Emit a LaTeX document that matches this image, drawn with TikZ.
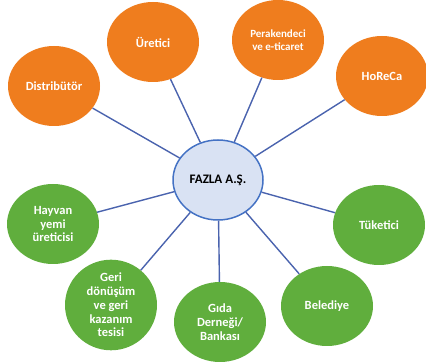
\documentclass[tikz,border=0pt]{standalone}
\usepackage{fontspec}
\setmainfont{Carlito}
\usetikzlibrary{shapes.geometric}

\definecolor{partnerorange}{HTML}{EF7D1E}
\definecolor{partnergreen}{HTML}{60AE3D}
\definecolor{hubfill}{HTML}{D9E2F3}
\definecolor{hubline}{HTML}{4472C4}
\definecolor{linkblue}{HTML}{4A63AE}

\begin{document}
\begin{tikzpicture}[x=1pt, y=-1pt,
  every partner/.style={ellipse, minimum width=92pt, minimum height=80pt,
    inner sep=0pt, align=center, text=white,
    font=\fontsize{12.5}{13.8}\selectfont\bfseries},
  partner orange/.style={every partner, fill=partnerorange},
  partner green/.style={every partner, fill=partnergreen},
  partner perakende/.style={font=\fontsize{11}{12.4}\selectfont\bfseries},
  hub/.style={ellipse, minimum width=90pt, minimum height=80pt, inner sep=0pt,
    fill=hubfill, draw=hubline, line width=1.5pt,
    font=\fontsize{13}{15}\selectfont\bfseries},
  link/.style={draw=linkblue, line width=1.4pt}]

\useasboundingbox (0,0) rectangle (426,363);

% Create the hub node
\node [hub] (hub) at (218,180) {FAZLA A.Ş.};

% Create the orange nodes
\foreach \m/\l/\x/\y in {distributor/Distribütör/54/86,
    uretici/Üretici/153/42,
    perakende/{Perakendeci\\ve e-ticaret}/278/40,
    horeca/HoReCa/382/76}
  \node [partner orange, partner \m/.try] (\m) at (\x,\y) {\l};

% Create the green nodes
\foreach \m/\l/\x/\y in {hayvan/{Hayvan\\yemi\\üreticisi}/53/224,
    geridonusum/{Geri\\dönüşüm\\ve geri\\kazanım\\tesisi}/111/305,
    gida/{Gıda\\Derneği/\\Bankası}/220/322,
    belediye/Belediye/327/306,
    tuketici/Tüketici/379/225}
  \node [partner green, partner \m/.try] (\m) at (\x,\y) {\l};

% Connect the hub to every partner
\foreach \m in {distributor, uretici, perakende, horeca,
    hayvan, geridonusum, gida, belediye, tuketici}
  \draw [link] (hub) -- (\m);

\end{tikzpicture}
\end{document}
